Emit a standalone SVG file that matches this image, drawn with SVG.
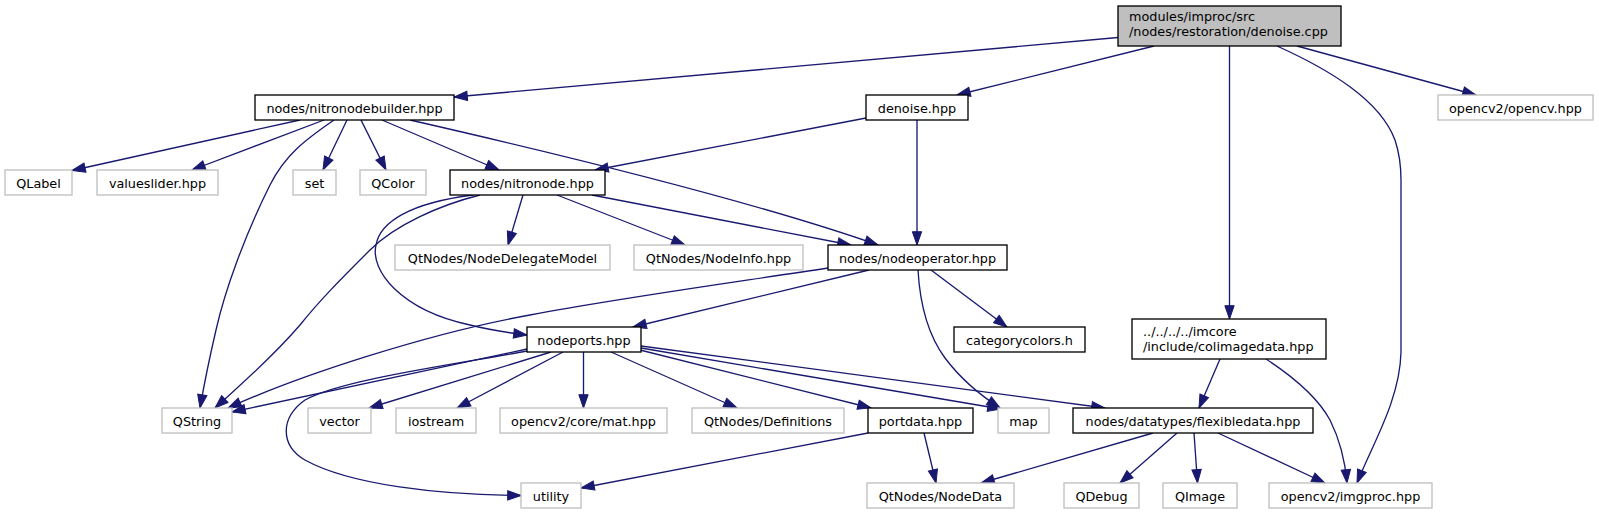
<svg xmlns="http://www.w3.org/2000/svg" width="1599" height="515" viewBox="0 0 1599 515">
<style>
.n rect{fill:#fff;stroke:#000;stroke-width:1.33}
.x rect{fill:#fff;stroke:#bfbfbf;stroke-width:1.33}
.r rect{fill:#bfbfbf;stroke:#000;stroke-width:1.33}
text{font-family:"DejaVu Sans","Liberation Sans",sans-serif;font-size:12.8px;fill:#000}
.c{text-anchor:middle}
#edges path{fill:none;stroke:#191970;stroke-width:1.33;marker-end:url(#ah)}
</style>
<defs>
<marker id="ah" markerWidth="15" markerHeight="11" refX="13.3" refY="4.67" orient="auto" markerUnits="userSpaceOnUse" overflow="visible">
<path d="M0,0 L13.3,4.67 L0,9.33 Z" fill="#191970" stroke="#191970" stroke-width="1"/>
</marker>
</defs>
<rect width="1599" height="515" fill="#fff"/>
<g id="edges">
<path d="M1118,37.5 L454,97"/>
<path d="M1154,46 L957,95"/>
<path d="M1229.5,46 L1229.5,319"/>
<path d="M1277,46 C1330,70 1380,100 1395,140 C1400,155 1401,165 1401,180 L1401,352 C1400,400 1372,445 1357,483"/>
<path d="M1297,46 L1476,95"/>
<path d="M300,120 L72,170.5"/>
<path d="M324,120 L192,170"/>
<path d="M334,120 C305,140 285,155 270,185 C245,235 225,290 216,330 C209,360 204,385 200,408"/>
<path d="M347,120 L323,170"/>
<path d="M361,120 L386,170"/>
<path d="M382,120 L499,170"/>
<path d="M410,120 C550,152 750,200 878,245"/>
<path d="M866,118 L595,170"/>
<path d="M917,120 L917,245"/>
<path d="M480,195 C440,205 395,225 370,250 C340,280 320,300 300,325 C270,360 240,385 215,408"/>
<path d="M473,195 C410,203 380,222 376,245 C370,270 400,310 470,325 C490,330 510,333 527,335"/>
<path d="M523,195 L508,245"/>
<path d="M557,195 L685,245"/>
<path d="M592,195 L851,245"/>
<path d="M828,268 C730,283 620,298 530,315 C430,333 300,375 228,408"/>
<path d="M869,270 L633,327"/>
<path d="M918,270 C920,305 928,335 945,358 C960,378 980,395 1000,408"/>
<path d="M931,270 L1007,327"/>
<path d="M527,349 L232,412"/>
<path d="M527,351 C450,365 340,380 305,400 C280,418 280,445 305,460 C350,485 440,495 521,495.5"/>
<path d="M551,352 L369,408"/>
<path d="M563,352 L457,408"/>
<path d="M583.5,352 L583.5,408"/>
<path d="M611,352 L737,408"/>
<path d="M640,350 L871,408"/>
<path d="M641,348 L1001,409"/>
<path d="M641,346 L1105,408"/>
<path d="M868,433 L581,488"/>
<path d="M924,433 L936,483"/>
<path d="M1220,359 L1199,408"/>
<path d="M1266,359 C1295,378 1318,398 1330,420 C1340,440 1345,460 1347,483"/>
<path d="M1153,433 L981,483"/>
<path d="M1177,433 L1120,483"/>
<path d="M1194,433 L1197.5,483"/>
<path d="M1218,433 L1325,483"/>
</g>
<g id="root" class="r"><rect x="1118" y="6" width="223" height="40"/><text x="1129" y="20.5">modules/improc/src</text><text x="1129" y="35.5">/nodes/restoration/denoise.cpp</text></g>
<g id="nitronodebuilder" class="n"><rect x="255" y="95" width="199" height="25"/><text class="c" x="354.5" y="112.5">nodes/nitronodebuilder.hpp</text></g>
<g id="denoise_hpp" class="n"><rect x="866" y="95" width="102" height="25"/><text class="c" x="917" y="112.5">denoise.hpp</text></g>
<g id="opencv_hpp" class="x"><rect x="1438" y="95" width="155" height="25"/><text class="c" x="1515.5" y="112.5">opencv2/opencv.hpp</text></g>
<g id="QLabel" class="x"><rect x="5" y="170" width="67" height="25"/><text class="c" x="38.5" y="187.5">QLabel</text></g>
<g id="valueslider" class="x"><rect x="97" y="170" width="121" height="25"/><text class="c" x="157.5" y="187.5">valueslider.hpp</text></g>
<g id="set" class="x"><rect x="293" y="170" width="43" height="25"/><text class="c" x="314.5" y="187.5">set</text></g>
<g id="QColor" class="x"><rect x="360" y="170" width="66" height="25"/><text class="c" x="393" y="187.5">QColor</text></g>
<g id="nitronode" class="n"><rect x="450" y="170" width="155" height="25"/><text class="c" x="527.5" y="187.5">nodes/nitronode.hpp</text></g>
<g id="NodeDelegateModel" class="x"><rect x="395" y="245" width="215" height="25"/><text class="c" x="502.5" y="262.5">QtNodes/NodeDelegateModel</text></g>
<g id="NodeInfo" class="x"><rect x="634" y="245" width="169" height="25"/><text class="c" x="718.5" y="262.5">QtNodes/NodeInfo.hpp</text></g>
<g id="nodeoperator" class="n"><rect x="828" y="245" width="179" height="25"/><text class="c" x="917.5" y="262.5">nodes/nodeoperator.hpp</text></g>
<g id="nodeports" class="n"><rect x="527" y="327" width="114" height="25"/><text class="c" x="584" y="344.5">nodeports.hpp</text></g>
<g id="categorycolors" class="n"><rect x="954" y="327" width="131" height="25"/><text class="c" x="1019.5" y="344.5">categorycolors.h</text></g>
<g id="colimagedata" class="n"><rect x="1132" y="319" width="194" height="40"/><text x="1143" y="335.5">../../../../imcore</text><text x="1143" y="350.5">/include/colimagedata.hpp</text></g>
<g id="QString" class="x"><rect x="162" y="408" width="70" height="25"/><text class="c" x="197" y="425.5">QString</text></g>
<g id="vector" class="x"><rect x="308" y="408" width="63" height="25"/><text class="c" x="339.5" y="425.5">vector</text></g>
<g id="iostream" class="x"><rect x="396" y="408" width="80" height="25"/><text class="c" x="436" y="425.5">iostream</text></g>
<g id="mat_hpp" class="x"><rect x="500" y="408" width="167" height="25"/><text class="c" x="583.5" y="425.5">opencv2/core/mat.hpp</text></g>
<g id="Definitions" class="x"><rect x="692" y="408" width="152" height="25"/><text class="c" x="768" y="425.5">QtNodes/Definitions</text></g>
<g id="portdata" class="n"><rect x="868" y="408" width="105" height="25"/><text class="c" x="920.5" y="425.5">portdata.hpp</text></g>
<g id="map" class="x"><rect x="998" y="408" width="51" height="25"/><text class="c" x="1023.5" y="425.5">map</text></g>
<g id="flexibledata" class="n"><rect x="1073" y="408" width="240" height="25"/><text class="c" x="1193" y="425.5">nodes/datatypes/flexibledata.hpp</text></g>
<g id="utility" class="x"><rect x="521" y="483" width="60" height="25"/><text class="c" x="551" y="500.5">utility</text></g>
<g id="NodeData" class="x"><rect x="867" y="483" width="147" height="25"/><text class="c" x="940.5" y="500.5">QtNodes/NodeData</text></g>
<g id="QDebug" class="x"><rect x="1064" y="483" width="75" height="25"/><text class="c" x="1101.5" y="500.5">QDebug</text></g>
<g id="QImage" class="x"><rect x="1163" y="483" width="74" height="25"/><text class="c" x="1200" y="500.5">QImage</text></g>
<g id="imgproc" class="x"><rect x="1269" y="483" width="163" height="25"/><text class="c" x="1350.5" y="500.5">opencv2/imgproc.hpp</text></g>
</svg>
